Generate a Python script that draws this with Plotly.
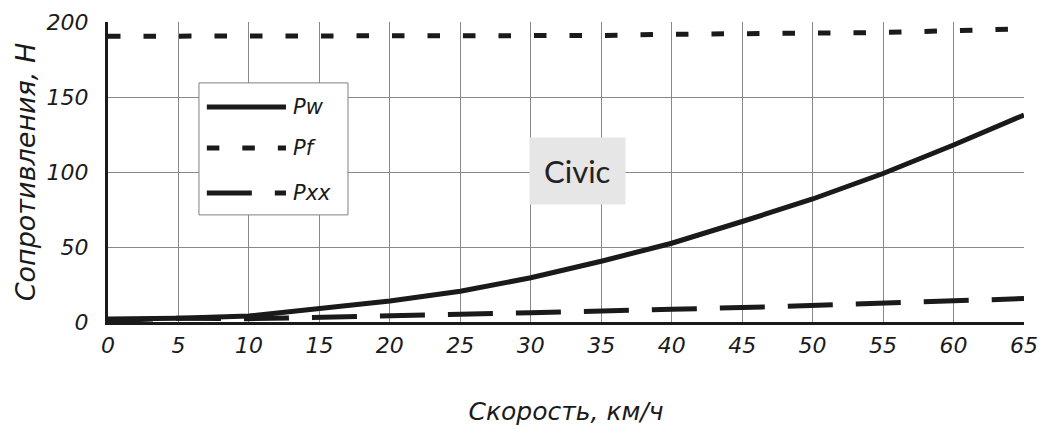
import plotly.graph_objects as go

speed = [0, 5, 10, 15, 20, 25, 30, 35, 40, 45, 50, 55, 60, 65]
pw = [2, 2.5, 4, 9, 14, 20.5, 29.5, 40.5, 52.5, 67, 82, 99, 118, 138]
pf = [190.5, 190.5, 190.5, 190.5, 190.5, 190.5, 190.5, 191, 191.8, 192, 192.7, 193, 194.2, 195.5]
pxx = [1, 2.5, 2.2, 2.9, 3.8, 5.1, 6.2, 7, 8.5, 9.6, 10.9, 12.2, 13.8, 15.6]

series_names = ["Pw", "Pf", "Pxx"]
series_dash = ["solid", "12.5px,23px", "45px,23px"]
x_ticks = list(range(0, 70, 5))
y_ticks = [0, 50, 100, 150, 200]

FONT = "DejaVu Sans"

fig = go.Figure()
for name, vals, dash in zip(series_names, [pw, pf, pxx], series_dash):
    fig.add_trace(go.Scatter(x=speed, y=vals, mode="lines", name=name,
                             line=dict(color="#1a1a1a", width=5, dash=dash),
                             showlegend=False))

# custom legend (box + samples + labels)
fig.add_shape(type="rect", xref="paper", yref="paper", x0=0.0993, x1=0.262, y0=0.357, y1=0.797,
              line=dict(color="#808080", width=1), fillcolor="white", layer="above")
leg_y = [0.7167, 0.58, 0.43]
for name, dash, ly in zip(series_names, series_dash, leg_y):
    fig.add_shape(type="line", xref="paper", yref="paper", x0=0.1079, x1=0.1943, y0=ly, y1=ly,
                  line=dict(color="#1a1a1a", width=5, dash=dash), layer="above")
    fig.add_annotation(xref="paper", yref="paper", x=0.2, y=ly, text=name, showarrow=False,
                       xanchor="left", yanchor="middle",
                       font=dict(family=FONT, size=21, color="#1a1a1a", style="italic"))

fig.add_annotation(x=33.3, y=100.5, text="Civic", showarrow=False, bgcolor="#e6e6e6",
                   borderpad=14, font=dict(family="Lato", size=31, color="#222222"))

axis_font = dict(family=FONT, size=22, color="#1a1a1a", style="italic")
# page body has an 8px margin, so the figure is shrunk by 8px and margins compensated
fig.update_layout(
    width=1044, height=421,
    margin=dict(l=100, r=28, t=14, b=107),
    paper_bgcolor="white", plot_bgcolor="white",
    xaxis=dict(range=[0, 65], tickvals=x_ticks, showgrid=True, gridcolor="#888888", gridwidth=1,
               showline=True, linecolor="#1a1a1a", linewidth=3, zeroline=False, automargin=False,
               tickfont=axis_font, ticks="", ticklabelstandoff=2,
               title=dict(text="Скорость, км/ч", font=dict(family=FONT, size=25, color="#1a1a1a", style="italic"), standoff=46)),
    yaxis=dict(range=[0, 200], tickvals=y_ticks, showgrid=True, gridcolor="#888888", gridwidth=1,
               showline=True, linecolor="#1a1a1a", linewidth=3, zeroline=False, automargin=False,
               tickfont=axis_font, ticks="", ticklabelstandoff=12,
               title=dict(text="Сопротивления, Н", font=dict(family=FONT, size=27, color="#1a1a1a", style="italic"), standoff=4)),
)

fig.write_html("out.html")
